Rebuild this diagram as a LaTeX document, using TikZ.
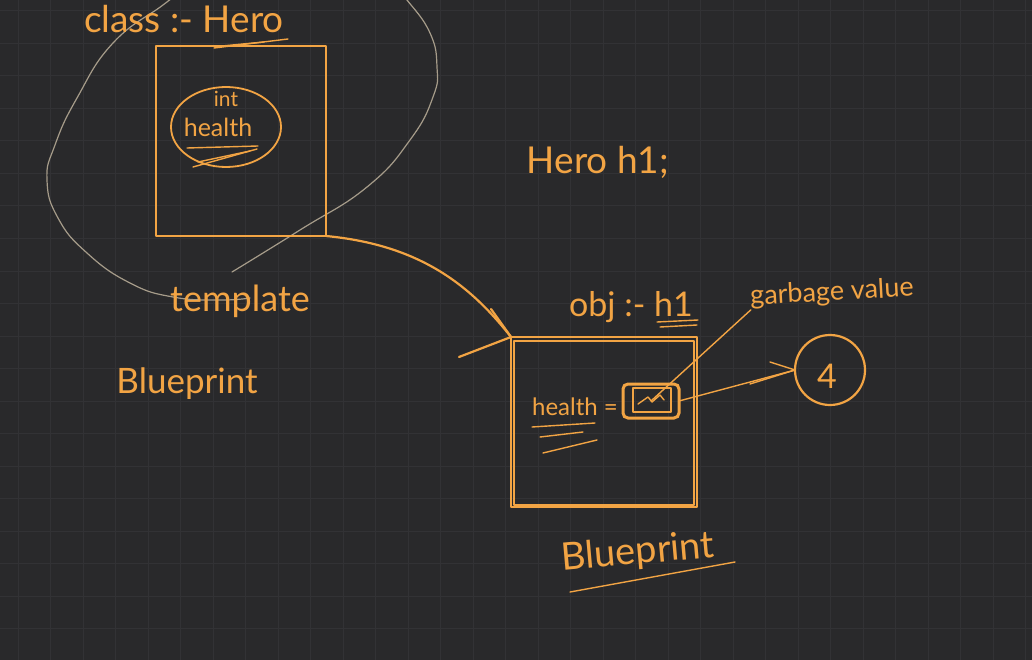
\documentclass[tikz,border=0pt]{standalone}
\usepackage{fontspec}
\setmainfont{Lato}
\usetikzlibrary{shapes.geometric,calc}
\definecolor{bg}{HTML}{29292B}
\definecolor{gridc}{HTML}{323235}
\definecolor{ink}{HTML}{F2A444}
\definecolor{pencil}{HTML}{A69C8A}
\begin{document}
\begin{tikzpicture}[x=1pt,y=-1pt,
  inkline/.style={draw=ink,line width=2.2pt,line cap=round,line join=round},
  thinink/.style={draw=ink,line width=1.4pt,line cap=round,line join=round},
  pencilline/.style={draw=pencil,line width=1.2pt,line cap=round},
  hand/.style={text=ink,inner sep=0pt},
  plainnode/.style={inner sep=0pt,outer sep=0pt}]
\useasboundingbox (0,0) rectangle (1032,660);
\fill[bg] (0,0) rectangle (1032,660);
\clip (0,0) rectangle (1032,660);
\foreach \i in {0,...,31} \draw[gridc,line width=1pt] ({18+32.5*\i},0) -- ++(0,660);
\foreach \j in {0,...,20} \draw[gridc,line width=1pt] (0,{11+32.5*\j}) -- ++(1032,0);

% big pencil loop
\draw[pencilline] plot[smooth,tension=0.8] coordinates {(185,-12) (163,5) (113,43) (77,98) (55,145) (47,180) (58,218) (87,253) (130,283) (173,297) (220,300) (250,298)};
\draw[pencilline] plot[smooth,tension=0.8] coordinates {(395,-12) (407,0) (430,33) (437,67) (433,97) (410,140) (367,187) (300,230) (232,272)};

% class box
\node[hand,font=\fontsize{37}{40}\selectfont] (cls) at (184,19) {class :- Hero};
\draw[thinink] (214,48) -- (288,39);
\draw[thinink] (222,46) -- (264,42);
\node[inkline,plainnode,minimum width=170pt,minimum height=190pt] (box1) at (241,141) {};
\node[inkline,line width=1.8pt,ellipse,plainnode,minimum width=110pt,minimum height=80pt] (field) at (226,127) {};
\node[hand,font=\fontsize{21}{22}\selectfont] (int) at (226,99) {int};
\node[hand,font=\fontsize{25}{26}\selectfont] (health) at (218,127) {health};
\draw[thinink] (187,148) -- (258,146);
\draw[thinink] (193,167) -- (257,149);
\draw[thinink] (198,162) -- (250,151);

\node[hand,font=\fontsize{36}{38}\selectfont] (tmpl) at (240,301) {template};
\node[hand,font=\fontsize{35}{38}\selectfont] (bp1) at (187,384) {Blueprint};
\node[hand,font=\fontsize{37}{40}\selectfont] (decl) at (598,162) {Hero h1;};

% object box
\node[inkline,plainnode,minimum width=186pt,minimum height=170pt] (box2) at (604,422) {};
\node[thinink,plainnode,minimum width=180pt,minimum height=164pt] (box2b) at (604,423) {};
\node[hand,font=\fontsize{34}{36}\selectfont] (obj) at (631,307) {obj :- h1};
\draw[thinink] (657,322) -- (698,320);
\draw[thinink] (660,327) -- (697,325);

% curved arrow template -> object
\draw[inkline] (box1.south east) .. controls (420,245) and (470,285) .. (box2.north west);
\draw[inkline] ($(box2.north west)+(-52,20)$) -- (box2.north west);
\draw[inkline] ($(box2.north west)+(-20,-28)$) -- (box2.north west);

\node[hand,font=\fontsize{24}{26}\selectfont] (hlbl) at (575,407) {health =};
\draw[thinink] (532,427) -- (595,423);
\draw[thinink] (540,437) -- (583,432);
\draw[thinink] (543,453) -- (597,440);

\node[draw=ink,line width=3pt,rounded corners=5pt,plainnode,minimum width=56pt,minimum height=34pt] (cell) at (651,401) {};
\node[thinink,plainnode,minimum width=38pt,minimum height=24pt] (cellin) at (652,400) {};
\draw[thinink] (638,404) -- (648,397) -- (652,402) -- (660,395) -- (664,400);

\node[hand,font=\fontsize{27}{29}\selectfont,rotate=3] (garb) at (832,293) {garbage value};
\draw[thinink] (cell.center) -- (garb.south west);

\node[inkline,circle,plainnode,minimum size=70pt] (four) at (830,370) {};
\node[hand,font=\fontsize{34}{36}\selectfont] (fourt) at (827,376) {4};
\draw[thinink] (cell.east) -- (four.west);
\draw[thinink] ($(four.west)+(-45,14)$) -- (four.west);
\draw[thinink] ($(four.west)+(-25,-8)$) -- (four.west);

\node[hand,font=\fontsize{38}{40}\selectfont,rotate=5] (bp2) at (638,553) {Blueprint};
\draw[thinink] (570,592) -- (735,562);
\end{tikzpicture}
\end{document}
